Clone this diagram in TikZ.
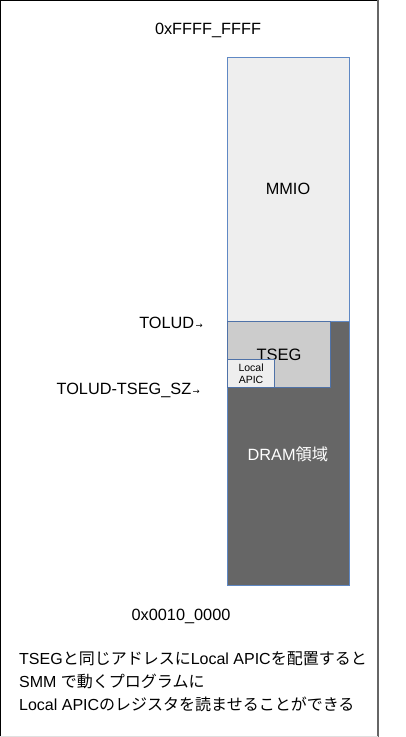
\documentclass[tikz,border=0pt]{standalone}
\usepackage{fontspec}
\setmainfont{Liberation Sans}
\newfontfamily\jp{Noto Sans CJK JP}
\newfontfamily\arr{DejaVu Sans}
\definecolor{edgeblue}{HTML}{5F88C4}
\definecolor{tsegedge}{HTML}{4F72A8}
\definecolor{lightfill}{HTML}{EEEEEE}
\definecolor{tsegfill}{HTML}{CCCCCC}
\definecolor{dramfill}{HTML}{666666}
\begin{document}
\begin{tikzpicture}[x=1pt,y=-1pt,
  region/.style={draw=edgeblue,line width=1.1pt},
  lbl/.style={inner sep=0pt,font=\fontsize{16.3}{18}\selectfont},
  arrowlbl/.style={lbl,anchor=base east}]
\useasboundingbox (0,0) rectangle (406,737);
% frame
\draw[line width=1.2pt,black] (0.6,737) -- (0.6,0.6) -- (378,0.6);
\draw[line width=1.6pt,gray!80!black] (378,0) -- (378,737);
\draw[line width=0.6pt,black!12] (0,736.5) -- (378,736.5);
% regions
\node[region,fill=lightfill,minimum width=122pt,minimum height=264pt,anchor=north west,inner sep=0pt] (mmio) at (227,57) {};
\node[font=\fontsize{16.3}{18}\selectfont] at (288,189) {MMIO};
\node[region,fill=dramfill,minimum width=122pt,minimum height=264pt,anchor=north west,inner sep=0pt] (dram) at (227,321) {};
\node[text=white,font=\fontsize{16.3}{18}\selectfont] at (288,454) {DRAM{\jp 領域}};
\node[draw=tsegedge,line width=1.1pt,fill=tsegfill,minimum width=103pt,minimum height=66pt,anchor=north west,inner sep=0pt] (tseg) at (227,321) {};
\node[font=\fontsize{16.5}{18}\selectfont] at (279,355) {TSEG};
\node[draw=tsegedge,line width=1.1pt,fill=lightfill,minimum width=47pt,minimum height=28pt,anchor=north west,inner sep=0pt,align=center,font=\fontsize{10.5}{12}\selectfont] (apic) at (227,359) {Local\\APIC};
% labels
\node[lbl] (top) at (208,30) {0xFFFF\_FFFF};
\node[lbl] (bot) at (181,616) {0x0010\_0000};
\node[arrowlbl] (tolud) at (203,328) {TOLUD{\arr\fontsize{8.5}{9}\selectfont\,→}};
\node[arrowlbl] (toludsz) at (200,394) {TOLUD-TSEG\_SZ{\arr\fontsize{8.5}{9}\selectfont\,→}};
% note
\node[inner sep=0pt,anchor=north west,align=left,font=\fontsize{16}{23}\selectfont] (note) at (19,651)
{TSEG{\jp と同じアドレスに}Local APIC{\jp を配置すると}\\
SMM {\jp で動くプログラムに}\\
Local APIC{\jp のレジスタを読ませることができる}};
\end{tikzpicture}
\end{document}
